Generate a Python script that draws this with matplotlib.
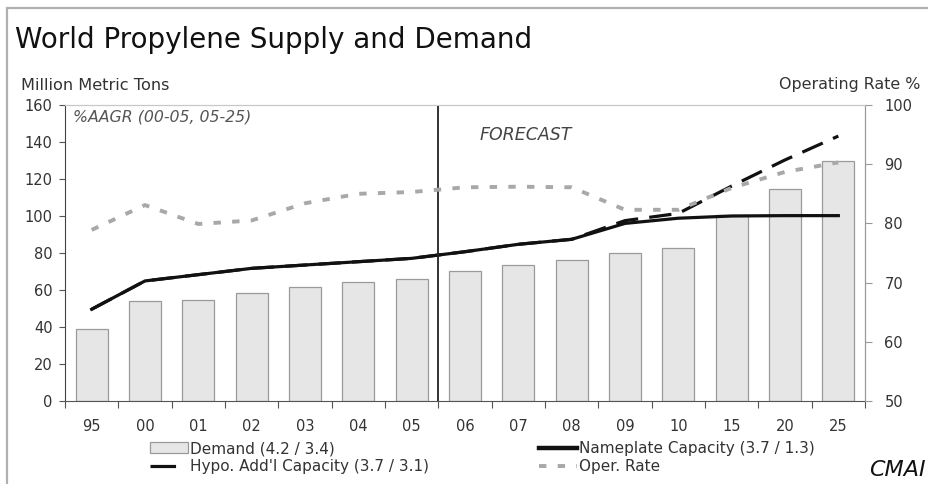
import matplotlib
matplotlib.use("Agg")
import matplotlib.pyplot as plt
from matplotlib.patches import Patch, Rectangle
from matplotlib.lines import Line2D

plt.rcParams['font.family'] = ['DejaVu Sans']

years = ["95", "00", "01", "02", "03", "04", "05", "06", "07", "08", "09", "10", "15", "20", "25"]
demand = [38.8, 54, 54.6, 58.5, 61.8, 64.5, 66, 70.3, 73.3, 76.2, 79.8, 82.9, 100.5, 114.4, 129.9]
nameplate = [49.6, 64.9, 68.3, 71.7, 73.5, 75.3, 77.1, 80.7, 84.7, 87.4, 96, 98.8, 100, 100.2, 100.2]
hypo = [49.6, 64.9, 68.3, 71.7, 73.5, 75.3, 77.1, 80.7, 84.7, 87.4, 97.5, 101.4, 116.2, 130.3, 143.2]
oper_rate = [78.9, 83.1, 79.9, 80.5, 83.4, 85.0, 85.3, 86.1, 86.2, 86.1, 82.3, 82.3, 86.0, 88.7, 90.3]

W, H = 929, 484
fig = plt.figure(figsize=(W / 100, H / 100), dpi=100)
fig.patches.append(Rectangle((7 / W, -0.1), 1.2, 1 - 8 / H + 0.1, transform=fig.transFigure,
                             fill=False, edgecolor="#b0b0b0", lw=1.6))

ax = fig.add_axes([65 / W, 1 - 401 / H, (865 - 65) / W, (401 - 105) / H])
x = list(range(len(years)))
ax.bar(x, demand, width=0.6, color="#e6e6e6", edgecolor="#9a9a9a", lw=0.9, zorder=2)
ax.plot(x, hypo, color="#111111", lw=2.3, dashes=(7, 3.5), zorder=4)
ax.plot(x, nameplate, color="#111111", lw=2.3, zorder=5)
ax.set_xlim(-0.5, len(years) - 0.5)
ax.set_ylim(0, 160)
ax.set_yticks(range(0, 161, 20))
ax.set_xticks([i + 0.5 for i in range(-1, len(years))])
ax.set_xticklabels([])
ax.set_xticks(x, minor=True)
ax.set_xticklabels(years, minor=True)
ax.tick_params(axis="x", which="minor", length=0, pad=13, labelsize=10.5, labelcolor="#333333")
ax.tick_params(axis="x", which="major", length=5, direction="out", color="#555555")
ax.tick_params(axis="y", length=4, direction="out", labelsize=10.5, labelcolor="#333333",
               color="#555555", pad=5)
ax.axvline(6.5, color="#222222", lw=1.3, zorder=6)
ax.spines["top"].set_color("#c8c8c8")
ax.spines["right"].set_color("#999999")
ax.spines["left"].set_color("#444444")
ax.spines["bottom"].set_color("#555555")

ax2 = ax.twinx()
ax2.plot(x, oper_rate, color="#a8a8a8", lw=2.8, dashes=(1.9, 2.9), zorder=3)
ax2.set_ylim(50, 100)
ax2.set_yticks(range(50, 101, 10))
ax2.tick_params(axis="y", length=5, direction="out", labelsize=10.5, labelcolor="#333333",
                color="#999999", pad=9)
ax2.spines["right"].set_color("#999999")
ax2.spines["top"].set_color("#c8c8c8")
ax2.spines["left"].set_visible(False)
ax2.spines["bottom"].set_visible(False)

fig.text(73 / W, 1 - 117 / H, "%AAGR (00-05, 05-25)", fontsize=11.3, style="italic",
         color="#555555", va="center")
fig.text(480 / W, 1 - 135 / H, "FORECAST", fontsize=12.5, style="italic", color="#444444", va="center")
fig.text(15 / W, 1 - 40 / H, "World Propylene Supply and Demand", fontsize=20, color="#111111",
         va="center")
fig.text(21 / W, 1 - 85 / H, "Million Metric Tons", fontsize=11.6, color="#333333", va="center")
fig.text(920 / W, 1 - 85 / H, "Operating Rate %", fontsize=11.4, color="#333333", va="center", ha="right")
fig.text(926 / W, 1 - 470 / H, "CMAI", fontsize=16, style="italic", color="#111111",
         va="center", ha="right")

h1 = [Patch(facecolor="#e6e6e6", edgecolor="#9a9a9a", lw=0.9),
      Line2D([], [], color="#111111", lw=2.3, dashes=(8, 12))]
l1 = ["Demand (4.2 / 3.4)", "Hypo. Add'l Capacity (3.7 / 3.1)"]
h2 = [Line2D([], [], color="#111111", lw=3.2),
      Line2D([], [], color="#a8a8a8", lw=2.8, dashes=(1.9, 2.9))]
l2 = ["Nameplate Capacity (3.7 / 1.3)", "Oper. Rate"]
common = dict(loc="upper left", frameon=False, fontsize=11, handlelength=2.5, handletextpad=0.15,
              labelspacing=0.2, borderaxespad=0, borderpad=0, labelcolor="#333333")
fig.legend(h1, l1, bbox_to_anchor=(150 / W, 1 - 441 / H), **common)
fig.legend(h2, l2, bbox_to_anchor=(539 / W, 1 - 441 / H), **common)

fig.savefig("out.png", dpi=100)
